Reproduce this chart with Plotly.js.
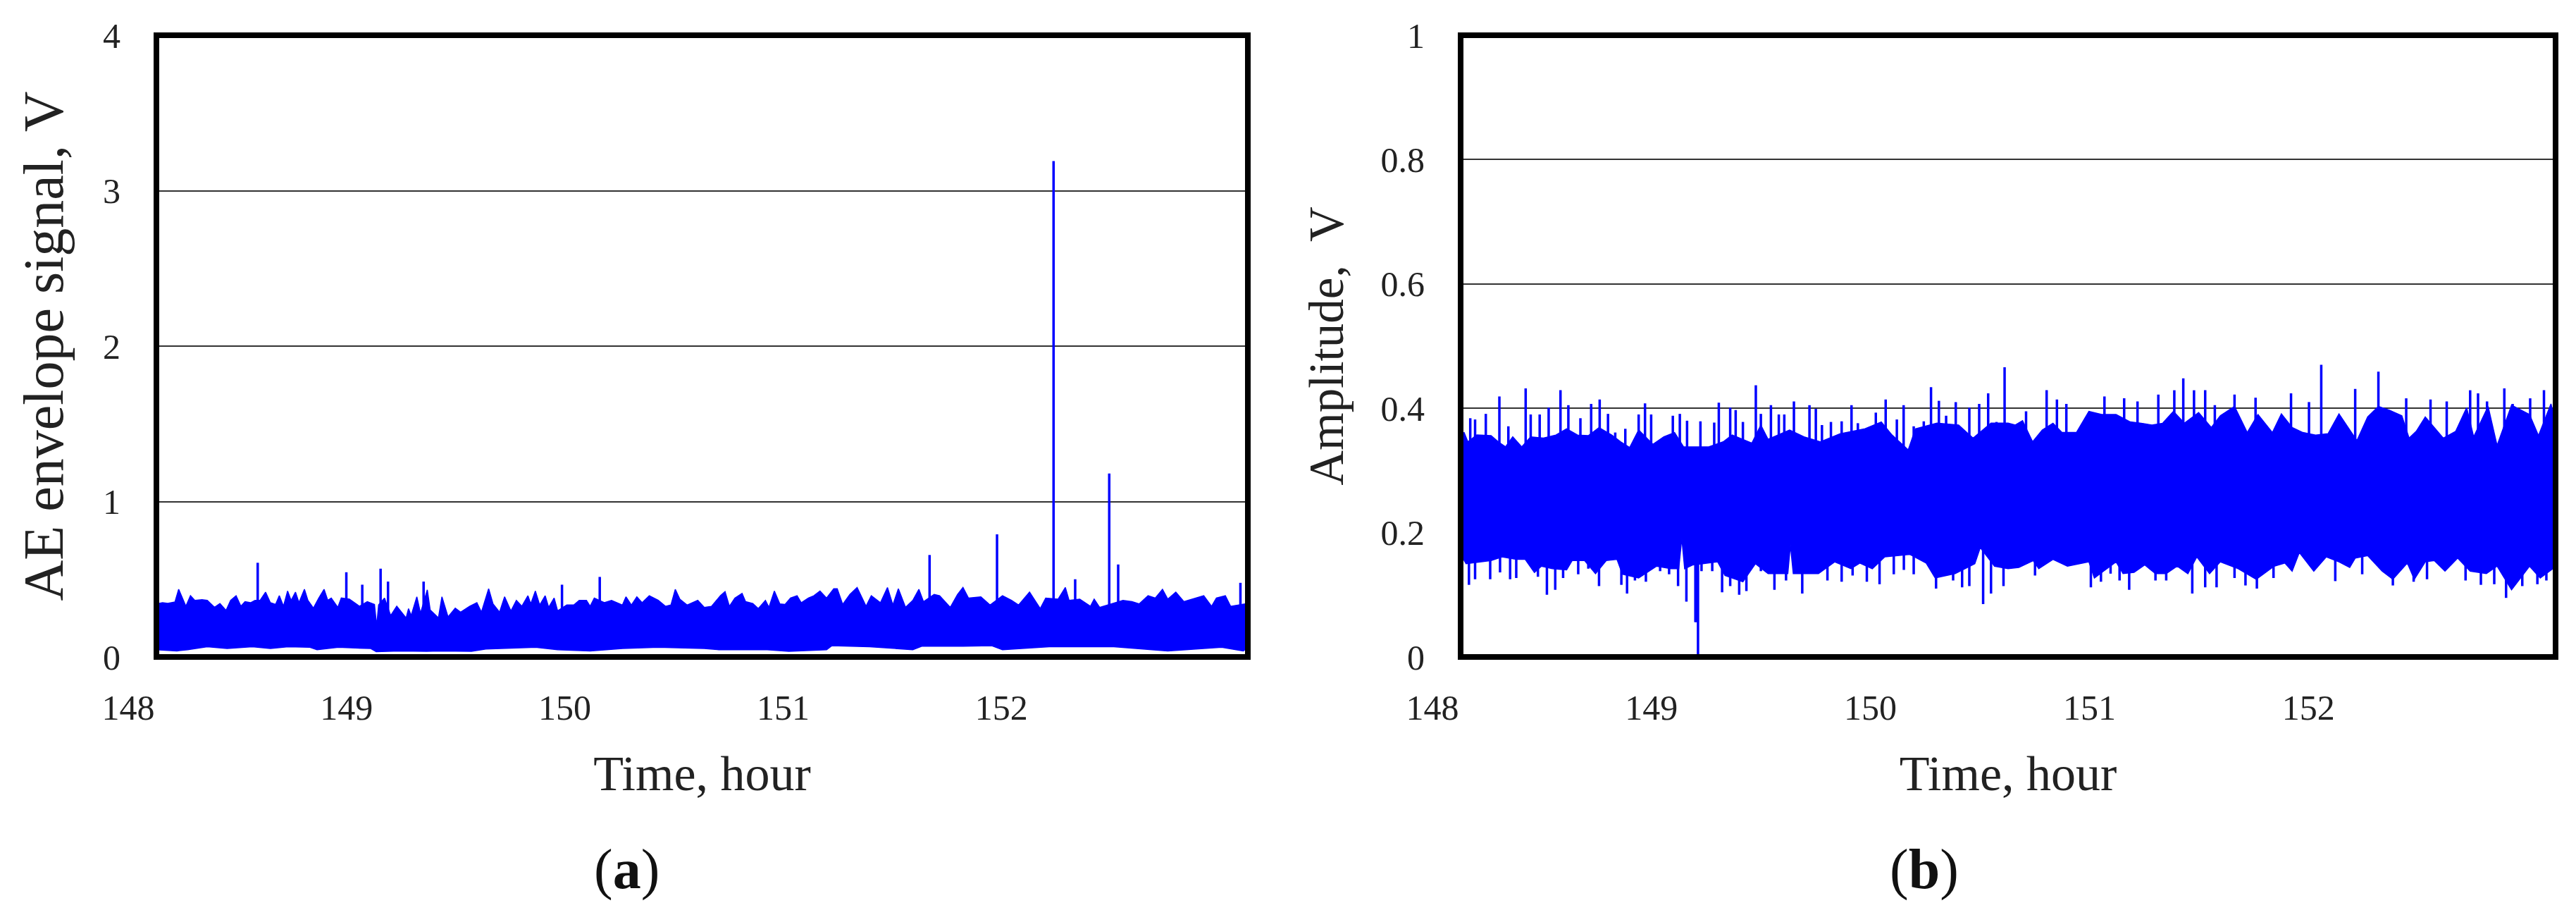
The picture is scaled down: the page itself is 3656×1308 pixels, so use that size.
<!DOCTYPE html>
<html>
<head>
<meta charset="utf-8">
<script src="https://cdn.plot.ly/plotly-3.0.1.min.js"></script>
<style>html,body{margin:0;padding:0;background:#fff}</style>
</head>
<body>
<div id="chart" style="width:3656px;height:1308px"></div>
<script>
// (a) AE envelope signal: top edge of the band, bottom edge, and the tall isolated spikes
var aTopTime = [148.000,148.028,148.052,148.085,148.102,148.118,148.135,148.156,148.176,148.209,148.233,148.266,148.291,148.319,148.340,148.365,148.387,148.406,148.431,148.452,148.475,148.500,148.522,148.546,148.563,148.582,148.601,148.617,148.637,148.653,148.678,148.694,148.719,148.744,148.768,148.785,148.801,148.831,148.847,148.884,148.908,148.930,148.966,148.999,149.009,149.018,149.045,149.073,149.101,149.144,149.155,149.167,149.193,149.210,149.241,149.254,149.292,149.308,149.336,149.369,149.394,149.435,149.468,149.489,149.522,149.542,149.572,149.595,149.624,149.649,149.674,149.702,149.715,149.736,149.756,149.781,149.797,149.822,149.838,149.880,149.912,149.937,149.970,149.987,150.006,150.052,150.085,150.135,150.151,150.176,150.201,150.225,150.258,150.299,150.332,150.357,150.377,150.398,150.431,150.480,150.510,150.543,150.584,150.605,150.625,150.650,150.683,150.699,150.732,150.757,150.790,150.806,150.831,150.856,150.880,150.905,150.935,150.954,150.987,151.012,151.040,151.070,151.103,151.119,151.144,151.177,151.210,151.251,151.275,151.317,151.349,151.374,151.399,151.432,151.465,151.493,151.514,151.563,151.588,151.637,151.670,151.695,151.720,151.777,151.819,151.876,151.917,151.950,152.000,152.049,152.074,152.131,152.164,152.181,152.230,152.279,152.296,152.321,152.428,152.469,152.502,152.543,152.576,152.609,152.633,152.670,152.707,152.749,152.798,152.834,152.856,152.897,152.921,152.987,153.000];
var aTop = [0.341,0.349,0.345,0.354,0.435,0.379,0.326,0.394,0.364,0.368,0.364,0.319,0.344,0.299,0.364,0.394,0.326,0.356,0.349,0.364,0.364,0.417,0.349,0.338,0.394,0.326,0.424,0.364,0.417,0.349,0.435,0.364,0.314,0.379,0.435,0.364,0.379,0.319,0.379,0.372,0.349,0.326,0.356,0.338,0.198,0.335,0.379,0.266,0.326,0.251,0.311,0.266,0.387,0.281,0.432,0.303,0.251,0.387,0.258,0.314,0.288,0.326,0.349,0.288,0.439,0.341,0.288,0.387,0.296,0.364,0.326,0.394,0.341,0.424,0.334,0.394,0.319,0.379,0.296,0.334,0.334,0.364,0.364,0.326,0.379,0.349,0.364,0.334,0.387,0.334,0.387,0.349,0.394,0.364,0.326,0.334,0.435,0.372,0.334,0.364,0.319,0.326,0.394,0.420,0.326,0.379,0.409,0.356,0.344,0.311,0.364,0.319,0.424,0.341,0.338,0.379,0.394,0.349,0.379,0.394,0.424,0.379,0.439,0.439,0.338,0.402,0.447,0.326,0.394,0.349,0.447,0.334,0.439,0.319,0.364,0.435,0.356,0.402,0.394,0.319,0.402,0.447,0.379,0.387,0.334,0.394,0.364,0.334,0.417,0.311,0.379,0.372,0.447,0.364,0.372,0.326,0.372,0.319,0.364,0.356,0.341,0.394,0.379,0.435,0.372,0.417,0.356,0.372,0.394,0.326,0.379,0.394,0.326,0.341,0.330];
var aLowTime = [148.000,148.094,148.143,148.233,148.324,148.439,148.522,148.604,148.703,148.736,148.834,148.982,149.007,149.114,149.238,149.295,149.443,149.509,149.740,149.838,149.987,150.135,150.299,150.510,150.576,150.798,150.897,151.070,151.094,151.267,151.465,151.506,151.695,151.827,151.876,152.090,152.386,152.633,152.880,152.979,153.000];
var aLow = [0.047,0.039,0.047,0.066,0.054,0.066,0.054,0.066,0.062,0.047,0.062,0.054,0.034,0.039,0.036,0.039,0.036,0.051,0.062,0.047,0.039,0.054,0.062,0.054,0.047,0.047,0.036,0.047,0.072,0.066,0.047,0.069,0.069,0.072,0.047,0.066,0.066,0.039,0.062,0.039,0.060];
var aSpikeTime = [148.464,148.870,148.943,149.027,149.061,149.224,149.858,150.031,151.542,151.851,152.110,152.209,152.365,152.406,152.966];
var aSpike = [0.606,0.545,0.465,0.568,0.485,0.485,0.465,0.515,0.656,0.789,3.190,0.500,1.180,0.595,0.477];

// (b) Amplitude: edges of the solid band
var bTopTime = [148.000,148.016,148.033,148.074,148.139,148.172,148.205,148.238,148.279,148.320,148.378,148.435,148.484,148.534,148.583,148.632,148.690,148.731,148.772,148.813,148.878,148.928,148.977,149.018,149.075,149.133,149.199,149.240,149.330,149.371,149.404,149.502,149.568,149.642,149.732,149.847,149.921,149.970,150.044,150.077,150.175,150.274,150.340,150.422,150.500,150.533,150.566,150.612,150.656,150.705,150.746,150.812,150.869,150.927,150.993,151.058,151.108,151.157,151.206,151.255,151.305,151.370,151.428,151.469,151.534,151.592,151.641,151.707,151.748,151.797,151.846,151.904,151.961,152.011,152.093,152.142,152.191,152.241,152.298,152.331,152.364,152.405,152.487,152.544,152.594,152.626,152.692,152.733,152.799,152.881,152.922,152.979,153.000];
var bTop = [0.357,0.361,0.346,0.357,0.356,0.346,0.338,0.354,0.338,0.354,0.352,0.357,0.367,0.357,0.356,0.369,0.357,0.346,0.337,0.365,0.342,0.354,0.361,0.338,0.338,0.338,0.346,0.357,0.344,0.373,0.350,0.365,0.354,0.346,0.359,0.367,0.378,0.357,0.333,0.367,0.376,0.373,0.352,0.376,0.376,0.373,0.380,0.346,0.365,0.376,0.361,0.361,0.395,0.390,0.390,0.378,0.376,0.373,0.376,0.395,0.376,0.393,0.369,0.388,0.403,0.361,0.390,0.361,0.391,0.369,0.361,0.357,0.359,0.391,0.348,0.386,0.403,0.397,0.388,0.352,0.363,0.386,0.352,0.363,0.401,0.354,0.403,0.340,0.405,0.390,0.356,0.407,0.376];
var bLowTime = [148.000,148.025,148.090,148.139,148.189,148.254,148.295,148.337,148.369,148.419,148.484,148.509,148.566,148.616,148.665,148.714,148.739,148.813,148.895,148.960,148.996,149.010,149.023,149.059,149.174,149.207,149.289,149.346,149.404,149.461,149.494,149.506,149.519,149.568,149.634,149.708,149.782,149.823,149.880,149.937,150.052,150.126,150.167,150.258,150.348,150.373,150.438,150.500,150.549,150.615,150.640,150.705,150.771,150.869,150.894,150.935,150.993,151.025,151.075,151.124,151.173,151.222,151.272,151.321,151.362,151.420,151.469,151.551,151.633,151.715,151.764,151.797,151.830,151.896,151.953,152.011,152.060,152.085,152.142,152.208,152.257,152.323,152.355,152.405,152.446,152.495,152.553,152.610,152.684,152.733,152.799,152.881,152.930,152.988,153.000];
var bLow = [0.165,0.150,0.153,0.155,0.161,0.157,0.157,0.136,0.146,0.142,0.140,0.155,0.155,0.134,0.155,0.157,0.133,0.127,0.146,0.142,0.142,0.191,0.142,0.148,0.153,0.131,0.121,0.150,0.134,0.134,0.134,0.180,0.134,0.134,0.134,0.153,0.142,0.151,0.142,0.161,0.165,0.151,0.127,0.134,0.150,0.176,0.146,0.142,0.144,0.155,0.142,0.157,0.146,0.153,0.127,0.138,0.153,0.134,0.136,0.148,0.134,0.134,0.146,0.134,0.161,0.134,0.153,0.142,0.125,0.146,0.151,0.138,0.168,0.138,0.161,0.153,0.144,0.159,0.163,0.138,0.125,0.151,0.125,0.153,0.155,0.138,0.159,0.138,0.134,0.146,0.108,0.146,0.127,0.142,0.146];

// (b) narrow peaks above and below the band
var bUpPeakTime = [148.044,148.066,148.115,148.177,148.218,148.297,148.320,148.361,148.402,148.456,148.492,148.547,148.596,148.635,148.673,148.706,148.752,148.813,148.842,148.870,148.969,149.001,149.034,149.095,149.158,149.179,149.231,149.256,149.289,149.348,149.371,149.417,149.453,149.478,149.522,149.593,149.622,149.650,149.691,149.740,149.785,149.814,149.896,149.941,149.992,150.023,150.069,150.115,150.148,150.184,150.217,150.261,150.323,150.368,150.409,150.447,150.484,150.582,150.676,150.723,150.766,150.940,151.030,151.091,151.186,151.259,151.300,151.349,151.400,151.444,151.534,151.630,151.792,151.874,151.930,152.085,152.191,152.318,152.429,152.503,152.610,152.646,152.687,152.766,152.804,152.884,152.947];
var bUpPeak = [0.384,0.382,0.391,0.419,0.371,0.432,0.390,0.390,0.401,0.429,0.405,0.384,0.407,0.414,0.391,0.361,0.367,0.390,0.408,0.390,0.388,0.391,0.380,0.379,0.377,0.409,0.401,0.397,0.378,0.437,0.391,0.405,0.390,0.390,0.411,0.405,0.399,0.373,0.378,0.379,0.405,0.376,0.393,0.414,0.382,0.405,0.371,0.379,0.434,0.412,0.388,0.410,0.401,0.407,0.424,0.378,0.466,0.395,0.429,0.414,0.407,0.419,0.416,0.411,0.422,0.429,0.448,0.429,0.429,0.405,0.422,0.417,0.424,0.410,0.470,0.431,0.459,0.416,0.414,0.411,0.429,0.424,0.411,0.432,0.407,0.416,0.429];
var bDownPeakTime = [148.038,148.066,148.135,148.180,148.226,148.254,148.353,148.394,148.432,148.468,148.537,148.583,148.632,148.734,148.760,148.796,148.846,148.911,148.952,148.993,149.031,149.072,149.076,149.084,149.100,149.149,149.194,149.231,149.272,149.305,149.371,149.433,149.486,149.560,149.593,149.675,149.740,149.790,149.855,149.913,149.978,150.024,150.069,150.171,150.249,150.290,150.323,150.386,150.422,150.479,150.623,150.878,150.924,150.968,151.009,151.053,151.173,151.222,151.341,151.400,151.452,151.534,151.584,151.636,151.712,151.994,152.117,152.257,152.352,152.413,152.589,152.659,152.720,152.774,152.848,152.917,152.958];
var bDownPeak = [0.116,0.125,0.125,0.136,0.125,0.127,0.129,0.100,0.108,0.127,0.133,0.142,0.114,0.116,0.102,0.123,0.121,0.138,0.133,0.114,0.089,0.056,0.056,0.000,0.138,0.138,0.104,0.114,0.100,0.106,0.138,0.108,0.123,0.102,0.134,0.123,0.121,0.131,0.121,0.117,0.133,0.140,0.133,0.110,0.123,0.112,0.114,0.085,0.102,0.114,0.131,0.112,0.121,0.134,0.123,0.108,0.123,0.123,0.102,0.112,0.112,0.127,0.115,0.110,0.127,0.122,0.133,0.115,0.121,0.125,0.123,0.116,0.117,0.095,0.114,0.117,0.123];

var xTicks = [148, 149, 150, 151, 152];
var aYTicks = [0, 1, 2, 3, 4];
var bYTicks = [0, 0.2, 0.4, 0.6, 0.8, 1];

var BLUE = '#0000ff';
var INK = '#222222';
var SERIF = '"Liberation Serif", "Times New Roman", serif';
var W = 3656, H = 1308;

// closed polygon between the top and bottom edge of a band
function band(topT, top, lowT, low, xa, ya) {
    return {
        x: topT.concat(lowT.slice().reverse()),
        y: top.concat(low.slice().reverse()),
        type: 'scatter', mode: 'lines', fill: 'toself', fillcolor: BLUE,
        line: {color: BLUE, width: 1.5}, xaxis: xa, yaxis: ya, hoverinfo: 'skip', showlegend: false
    };
}

// vertical strokes from a level inside the band out to each value
function strokes(t, v, from, width, xa, ya) {
    var xs = [], ys = [];
    for (var i = 0; i < t.length; i++) {
        xs.push(t[i], t[i], null);
        ys.push(from, v[i], null);
    }
    return {
        x: xs, y: ys, type: 'scatter', mode: 'lines',
        line: {color: BLUE, width: width}, xaxis: xa, yaxis: ya, hoverinfo: 'skip', showlegend: false
    };
}

var data = [
    band(aTopTime, aTop, aLowTime, aLow, 'x', 'y'),
    strokes(aSpikeTime, aSpike, 0.2, 3.5, 'x', 'y'),
    band(bTopTime, bTop, bLowTime, bLow, 'x2', 'y2'),
    strokes(bUpPeakTime, bUpPeak, 0.25, 3.5, 'x2', 'y2'),
    strokes(bDownPeakTime, bDownPeak, 0.25, 3.5, 'x2', 'y2')
];

function xAxis(left, right, anchor) {
    return {
        domain: [left / W, right / W], range: [148, 153], anchor: anchor,
        tickmode: 'array', tickvals: xTicks, ticktext: xTicks.map(String),
        ticks: '', showgrid: false, zeroline: false, showline: false,
        ticklabelshift: -40, ticklabelstandoff: 38,
        tickfont: {family: SERIF, size: 50, color: INK},
        title: {text: 'Time, hour', font: {family: SERIF, size: 70, color: INK}, standoff: 40},
        automargin: false
    };
}

function yAxis(max, ticks, title, titleSize, anchor) {
    return {
        domain: [1 - 932 / H, 1 - 50 / H], range: [0, max], anchor: anchor,
        tickmode: 'array', tickvals: ticks, ticktext: ticks.map(String),
        ticks: '', showgrid: true, gridcolor: '#333333', gridwidth: 2, zeroline: false, showline: false,
        ticklabelstandoff: 50,
        tickfont: {family: SERIF, size: 50, color: INK},
        title: {text: title, font: {family: SERIF, size: titleSize, color: INK}, standoff: 30},
        automargin: false
    };
}

function frame(xa, ya) {
    return {
        type: 'rect', xref: xa + ' domain', yref: ya + ' domain', x0: 0, x1: 1, y0: 0, y1: 1,
        line: {color: '#000000', width: 8}, layer: 'above'
    };
}

function caption(letter, px) {
    return {
        text: '(<b>' + letter + '</b>)', xref: 'paper', yref: 'paper', x: px / W, y: 1 - 1233 / H,
        showarrow: false, xanchor: 'center', yanchor: 'middle',
        font: {family: SERIF, size: 80, color: '#111111'}
    };
}

var layout = {
    width: W, height: H,
    margin: {l: 0, r: 0, t: 0, b: 0, pad: 0},
    paper_bgcolor: '#ffffff', plot_bgcolor: '#ffffff',
    showlegend: false,
    xaxis: xAxis(222, 1771, 'y'),
    yaxis: yAxis(4, aYTicks, 'AE envelope signal, V', 80, 'x'),
    xaxis2: xAxis(2073, 3627, 'y2'),
    yaxis2: yAxis(1, bYTicks, 'Amplitude,\u00a0 V', 69, 'x2'),
    shapes: [frame('x', 'y'), frame('x2', 'y2')],
    annotations: [caption('a', 889), caption('b', 2731)]
};

Plotly.newPlot('chart', data, layout, {displayModeBar: false, staticPlot: true});
</script>
</body>
</html>
